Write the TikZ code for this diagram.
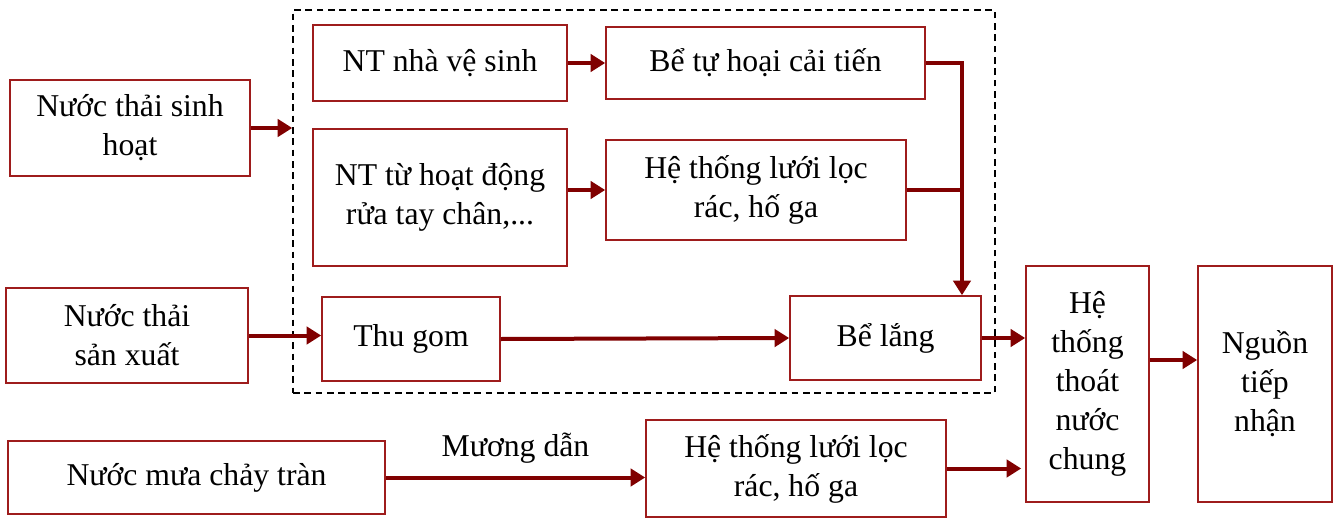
\documentclass[tikz,border=0pt]{standalone}
\usepackage{fontspec}
\setmainfont{Liberation Serif}
\usetikzlibrary{arrows.meta,calc}
\definecolor{boxred}{RGB}{158,28,28}
\definecolor{flowred}{RGB}{128,0,0}
\begin{document}
\begin{tikzpicture}[x=0.75pt,y=-0.75pt,
  font=\fontsize{23.8}{29.3}\selectfont,
  box/.style={draw=boxred,line width=1.2pt,fill=white,align=center,inner sep=0pt},
  sz/.style 2 args={minimum width=#1*0.75pt,minimum height=#2*0.75pt},
  flow/.style={draw=flowred,line width=3pt,
    -{Triangle[length=11pt,width=13pt]}},
  link/.style={draw=flowred,line width=3pt}]
\useasboundingbox (0,0) rectangle (1340,518);
% dashed frame round the in-plant treatment steps
\node[draw=black,dashed,line width=1.1pt,dash pattern=on 5pt off 3.5pt,
  sz={702}{383},inner sep=0pt] (grp) at (644,201.5) {};
% sources
\node[box,sz={240}{96}] (A) at (130,128) {Nước thải sinh\\hoạt};
\node[box,sz={242}{95}] (F) at (127,335.5) {Nước thải\\sản xuất};
\node[box,sz={377}{73}] (I) at (196.5,477.5) {Nước mưa chảy tràn};
% treatment steps
\node[box,sz={254}{76}] (B) at (440,63) {NT nhà vệ sinh};
\node[box,sz={319}{72}] (C) at (765.5,63) {Bể tự hoại cải tiến};
\node[box,sz={254}{137}] (D) at (440,197.5) {NT từ hoạt động\\rửa tay chân,...};
\node[box,sz={300}{100}] (E) at (756,190) {Hệ thống lưới lọc\\rác, hố ga};
\node[box,sz={178}{84}] (G) at (411,339) {Thu gom};
\node[box,sz={191}{84}] (H) at (885.5,338) {Bể lắng};
\node[box,sz={300}{97}] (J) at (796,468.5) {Hệ thống lưới lọc\\rác, hố ga};
% outlets
\node[box,sz={123}{236}] (K) at (1087.5,384) {Hệ\\thống\\thoát\\nước\\chung};
\node[box,sz={134}{236}] (L) at (1265,384) {Nguồn\\tiếp\\nhận};
% connectors
\coordinate (drop) at (962,0);
\coordinate (kout) at ([yshift=18pt]K.east);
\draw[flow] (A.east) -- (A.east -| grp.west);
\draw[flow] (B.east) -- (C.west);
\draw[flow] (D.east |- E.west) -- (E.west);
\draw[link] (E.east) -- (E.east -| drop);
\draw[flow] (C.east) -| (drop |- H.north);
\draw[flow] (F.east) -- (F.east -| G.west);
\draw[flow] (G.east) -- (H.west);
\draw[flow] (H.east) -- (H.east -| K.west);
\draw[flow] (I.east) -- node[above=6pt,text=black] {Mương dẫn} (I.east -| J.west);
\draw[flow] (J.east) -- ([xshift=-3pt]J.east -| K.west);
\draw[flow] (kout) -- (kout -| L.west);
\end{tikzpicture}
\end{document}
